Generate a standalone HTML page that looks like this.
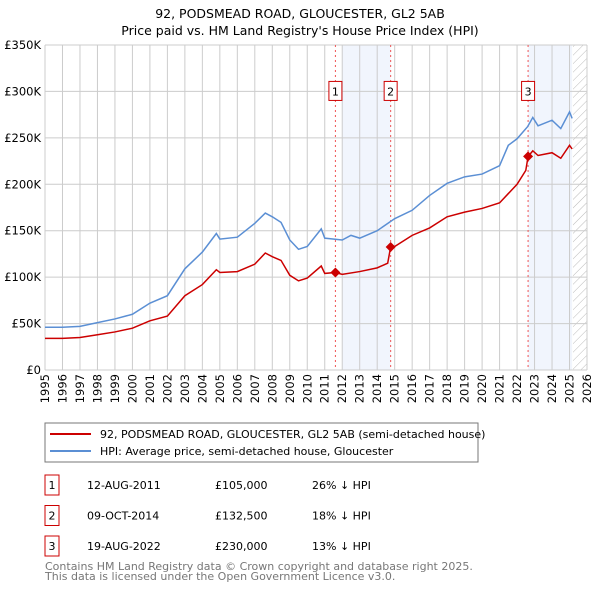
<!DOCTYPE html>
<html><head><meta charset="utf-8"><style>
body{margin:0;background:#fff;font-family:"DejaVu Sans","Liberation Sans",sans-serif;}
svg text{font-family:"DejaVu Sans","Liberation Sans",sans-serif;}
</style></head><body>
<svg id="c" width="600" height="590" xmlns="http://www.w3.org/2000/svg">
<defs><pattern id="hatch" width="6" height="6" patternUnits="userSpaceOnUse" patternTransform="rotate(45)"><line x1="0" y1="0" x2="0" y2="6" stroke="#bbb" stroke-width="1"/></pattern></defs>
<text x="300" y="18" text-anchor="middle" font-size="12.5">92, PODSMEAD ROAD, GLOUCESTER, GL2 5AB</text>
<text x="300" y="35" text-anchor="middle" font-size="12.5">Price paid vs. HM Land Registry's House Price Index (HPI)</text>
<g id="plot"></g>
<rect x="45" y="423" width="433" height="39" fill="#fff" stroke="#777"/>
<line x1="50" y1="434" x2="91" y2="434" stroke="#cc0000" stroke-width="2"/>
<text x="100" y="438" font-size="11">92, PODSMEAD ROAD, GLOUCESTER, GL2 5AB (semi-detached house)</text>
<line x1="50" y1="451" x2="91" y2="451" stroke="#5b8fd4" stroke-width="2"/>
<text x="100" y="455" font-size="11">HPI: Average price, semi-detached house, Gloucester</text>
<g id="tbl" font-size="11"></g>
<text x="45" y="570" font-size="11" fill="#777">Contains HM Land Registry data © Crown copyright and database right 2025.</text>
<text x="45" y="580" font-size="11" fill="#777">This data is licensed under the Open Government Licence v3.0.</text>
</svg>
<script>
const hpiYears=[1995,1996,1997,1998,1999,2000,2001,2002,2003,2004,2004.8,2005,2006,2007,2007.6,2008,2008.5,2009,2009.5,2010,2010.8,2011,2012,2012.5,2013,2014,2015,2016,2017,2018,2019,2020,2021,2021.5,2022,2022.6,2022.9,2023.2,2024,2024.5,2025,2025.15];
const hpiValues=[46,46,47,51,55,60,72,80,109,127,147,141,143,158,169,165,159,140,130,133,152,142,140,145,142,150,163,172,188,201,208,211,220,242,249,262,272,263,269,260,278,271];
const redYears=[1995,1996,1997,1998,1999,2000,2001,2002,2003,2004,2004.8,2005,2006,2007,2007.6,2008,2008.5,2009,2009.5,2010,2010.8,2011,2011.6,2012,2013,2014,2014.6,2014.77,2015,2016,2017,2018,2019,2020,2021,2021.5,2022,2022.5,2022.63,2022.9,2023.2,2024,2024.5,2025,2025.15];
const redValues=[34,34,35,38,41,45,53,58,80,92,108,105,106,114,126,122,118,102,96,99,112,104,105,103,106,110,115,132.5,133,145,153,165,170,174,180,190,200,215,230,236,231,234,228,242,238];
const saleYears=[2011.61,2014.77,2022.63];
const saleValues=[105,132.5,230];
const saleLabels=["1","2","3"];
const saleDates=["12-AUG-2011","09-OCT-2014","19-AUG-2022"];
const salePrices=["£105,000","£132,500","£230,000"];
const saleDiffs=["26% ↓ HPI","18% ↓ HPI","13% ↓ HPI"];
const yTicks=[0,50,100,150,200,250,300,350];
const yTickLabels=["£0","£50K","£100K","£150K","£200K","£250K","£300K","£350K"];
const xTicks=[1995,1996,1997,1998,1999,2000,2001,2002,2003,2004,2005,2006,2007,2008,2009,2010,2011,2012,2013,2014,2015,2016,2017,2018,2019,2020,2021,2022,2023,2024,2025,2026];
const shadeRanges=[[2012.0,2014.77],[2022.63,2025.15]];
const X0=45,X1=587,Y0=370,Y1=45;
const x=v=>X0+(v-1995)/(2026-1995)*(X1-X0);
const y=v=>Y0-v/350*(Y0-Y1);
const NS="http://www.w3.org/2000/svg";
const g=document.getElementById('plot');
function mk(t,a,p){const e=document.createElementNS(NS,t);for(const k in a)e.setAttribute(k,a[k]);(p||g).appendChild(e);return e;}
shadeRanges.forEach((r,i)=>{const e=mk('rect',{x:x(r[0]),y:Y1,width:x(r[1])-x(r[0]),height:Y0-Y1,fill:'#eef3fc',opacity:0.8});

});
const h=mk('rect',{x:x(2025.2),y:Y1,width:X1-x(2025.2),height:Y0-Y1,fill:'url(#hatch)'});


xTicks.forEach(t=>{const l=mk('line',{x1:x(t),x2:x(t),y1:Y1,y2:Y0,stroke:'#ccc'});


const tx=mk('text',{x:x(t)+4,y:Y0+4,'text-anchor':'end','font-size':11.5,transform:`rotate(-90 ${x(t)+4} ${Y0+4})`});tx.textContent=t;

});
yTicks.forEach((t,i)=>{const l=mk('line',{x1:X0,x2:X1,y1:y(t),y2:y(t),stroke:'#ccc'});


const tx=mk('text',{x:X0-4,y:y(t)+4,'text-anchor':'end','font-size':11.5});tx.textContent=yTickLabels[i];

});
saleYears.forEach((s,i)=>{const l=mk('line',{x1:x(s),x2:x(s),y1:Y1,y2:Y0,stroke:'#e55','stroke-dasharray':'2,3'});


const b=mk('rect',{x:x(s)-6.5,y:y(300)-10,width:13,height:19,fill:'#fff',stroke:'#cc0000'});


const t=mk('text',{x:x(s),y:y(300)+4,'text-anchor':'middle','font-size':11});t.textContent=saleLabels[i];

});
const hp=mk('polyline',{points:hpiYears.map((v,i)=>x(v)+','+y(hpiValues[i])).join(' '),fill:'none',stroke:'#5b8fd4','stroke-width':1.5});


const rp=mk('polyline',{points:redYears.map((v,i)=>x(v)+','+y(redValues[i])).join(' '),fill:'none',stroke:'#cc0000','stroke-width':1.5});


saleYears.forEach((s,i)=>{const cx=x(s),cy=y(saleValues[i]);const d=mk('polygon',{points:`${cx},${cy-5} ${cx+5},${cy} ${cx},${cy+5} ${cx-5},${cy}`,fill:'#cc0000'});

});
const tb=document.getElementById('tbl');
saleLabels.forEach((l,i)=>{const yy=485+i*30.5;
const b=mk('rect',{x:45,y:yy-10,width:14,height:20,fill:'#fff',stroke:'#cc0000'},tb);


const cols=[[52,l,'middle'],[87,saleDates[i],'start'],[215,salePrices[i],'start'],[312,saleDiffs[i],'start']];
cols.forEach(c=>{const t=mk('text',{x:c[0],y:yy+4,'text-anchor':c[2]},tb);t.textContent=c[1];

});});
</script>
</body></html>
